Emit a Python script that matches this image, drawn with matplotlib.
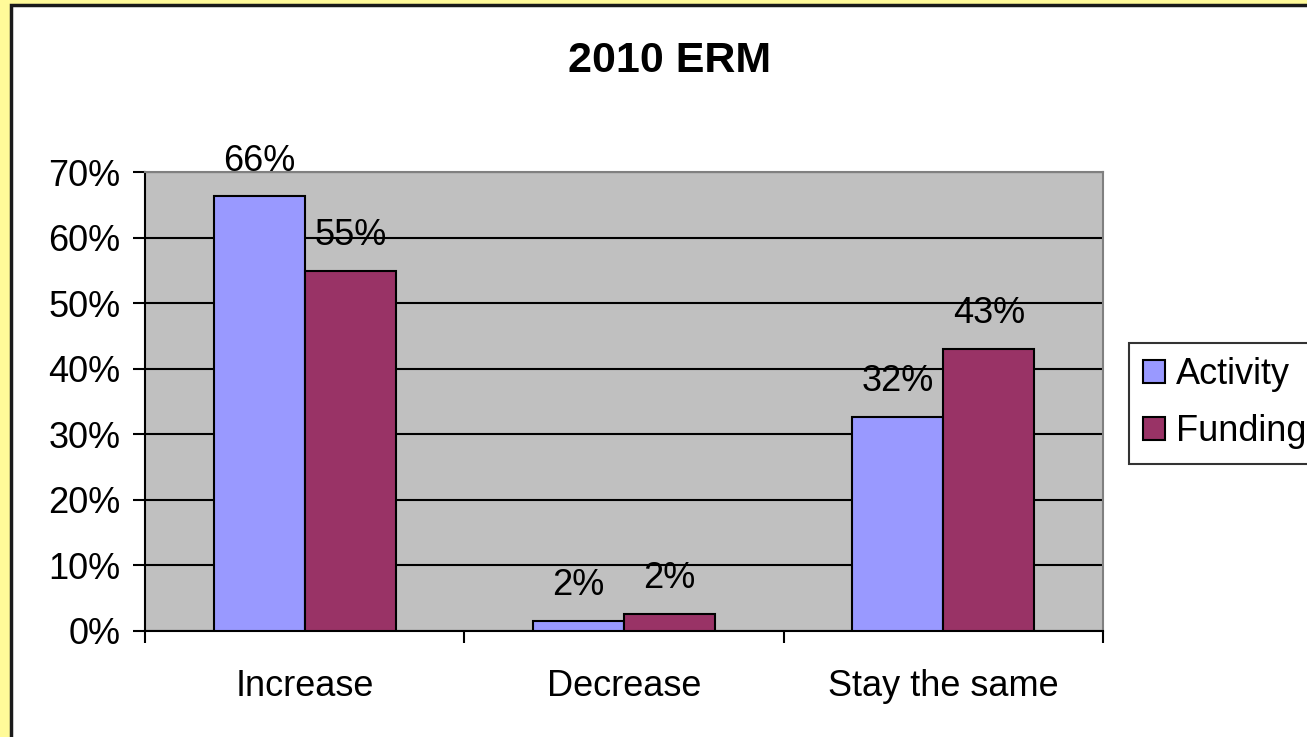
import numpy as np
import matplotlib.pyplot as plt
from matplotlib.patches import Rectangle

plt.rcParams['font.family'] = ['Liberation Sans', 'DejaVu Sans']

# data
categories = ['Increase', 'Decrease', 'Stay the same']
activity = [66.3, 1.6, 32.7]
funding = [54.9, 2.6, 43.0]
activity_labels = ['66%', '2%', '32%']
funding_labels = ['55%', '2%', '43%']
yticks = [0, 10, 20, 30, 40, 50, 60, 70]

W, H = 1307, 737
fig = plt.figure(figsize=(W / 100, H / 100), dpi=100)
fig.patch.set_facecolor('#FFFA99')

# white chart area with black frame (runs off the right/bottom edge)
fig.patches.append(Rectangle((10.5 / W, 0 - 0.05), 1.1, 1 - 4.5 / H + 0.05,
                             transform=fig.transFigure, facecolor='white',
                             edgecolor='#1a1a1a', linewidth=2.5, zorder=-10))

ax = fig.add_axes([145 / W, 1 - 631 / H, (1103 - 145) / W, (631 - 172) / H])
ax.set_facecolor('#C0C0C0')

x = np.arange(len(categories))
bw = 0.285
b1 = ax.bar(x - bw / 2, activity, bw, color='#9999FF', edgecolor='black',
            linewidth=1.5, label='Activity', zorder=3)
b2 = ax.bar(x + bw / 2, funding, bw, color='#993366', edgecolor='black',
            linewidth=1.5, label='Funding', zorder=3)

fs = 26
for xi, v, t in zip(x - bw / 2, activity, activity_labels):
    ax.annotate(t, xy=(xi, v), xytext=(0, 18.5), textcoords='offset points',
                ha='center', va='baseline', fontsize=fs, zorder=4)
for xi, v, t in zip(x + bw / 2, funding, funding_labels):
    ax.annotate(t, xy=(xi, v), xytext=(0, 18.5), textcoords='offset points',
                ha='center', va='baseline', fontsize=fs, zorder=4)

ax.set_xlim(-0.5, 2.5)
ax.set_ylim(0, 70)
ax.set_yticks(yticks)
ax.set_yticklabels([f'{t}%' for t in yticks], fontsize=fs)
ax.yaxis.grid(True, color='black', linewidth=1.5, zorder=1)
ax.set_axisbelow(True)

ax.set_xticks(x)
ax.set_xticklabels(categories, fontsize=fs)
ax.set_xticks([-0.5, 0.5, 1.5, 2.5], minor=True)
ax.tick_params(axis='x', which='major', length=0, pad=27)
ax.tick_params(axis='x', which='minor', length=8.6, width=1.5, direction='out')
ax.tick_params(axis='y', length=8.6, width=1.5, direction='out', pad=9)

ax.spines['left'].set_color('black')
ax.spines['bottom'].set_color('black')
ax.spines['left'].set_linewidth(1.5)
ax.spines['bottom'].set_linewidth(1.5)
ax.spines['top'].set_color('#808080')
ax.spines['right'].set_color('#808080')
ax.spines['top'].set_linewidth(1.5)
ax.spines['right'].set_linewidth(1.5)

fig.text(670 / W, 1 - 61 / H, '2010 ERM', ha='center', va='center',
         fontsize=31, fontweight='bold')

leg = fig.legend(handles=[b1, b2], labels=['Activity', 'Funding'],
                 loc='upper left', bbox_to_anchor=(1129 / W, 1 - 343 / H),
                 fontsize=fs, frameon=True, fancybox=False, edgecolor='black',
                 handlelength=0.6, handleheight=0.6, handletextpad=0.3,
                 labelspacing=0.6, borderpad=0.4, borderaxespad=0)
leg.get_frame().set_linewidth(1.5)

fig.savefig('out.png', dpi=100, facecolor=fig.get_facecolor())
